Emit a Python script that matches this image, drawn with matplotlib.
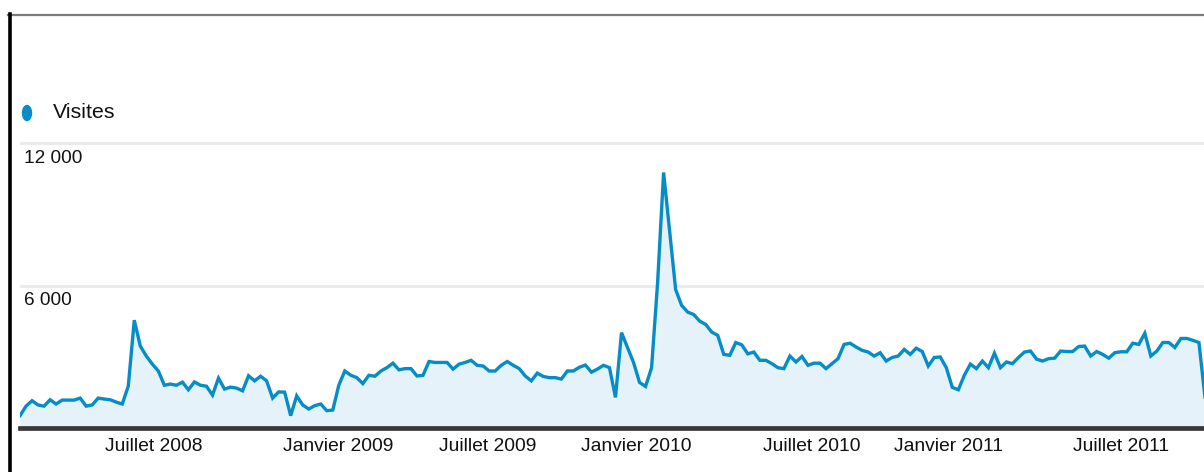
import matplotlib
matplotlib.use("Agg")
import matplotlib.pyplot as plt
from matplotlib.patches import Ellipse
from matplotlib.lines import Line2D
import matplotlib.transforms as mtransforms

plt.rcParams['font.family'] = ['Liberation Sans', 'DejaVu Sans']

# Weekly visits
visits = [
    520, 920, 1150, 970, 920, 1190, 1010, 1175, 1175, 1175, 1260, 920, 970, 1260, 1220, 1190,
    1090, 1010, 1760, 4540, 3450, 3030, 2690, 2400, 1800, 1850, 1800, 1930, 1610, 1940, 1800,
    1760, 1385, 2100, 1640, 1720, 1680, 1565, 2200, 1985, 2180, 1985, 1260, 1520, 1510, 520,
    1355, 970, 800, 940, 1010, 730, 755, 1800, 2400, 2220, 2120, 1870, 2220, 2180, 2400, 2540,
    2730, 2450,
    2500, 2500, 2190, 2220, 2800, 2760, 2760, 2760, 2480, 2690, 2760, 2850, 2640, 2610, 2400,
    2400, 2640, 2800, 2640, 2500, 2190, 1985, 2310, 2170, 2120, 2120, 2060, 2400, 2400, 2560,
    2650, 2350, 2480,
    2640, 2540, 1290, 4015, 3390, 2760, 1920, 1750, 2540, 6110, 10760, 8280, 5830, 5160, 4880,
    4780, 4500, 4360, 4040, 3900, 3100, 3060, 3600, 3500, 3120, 3200, 2850, 2850, 2710, 2540,
    2500, 3030, 2780,
    3010, 2640, 2730, 2730, 2500, 2710, 2920, 3520, 3570, 3410, 3270, 3200, 3030, 3170, 2820,
    2970, 3030, 3310, 3100, 3360, 3220, 2610, 2970, 2990, 2540, 1710, 1610, 2220, 2690, 2500,
    2820, 2540, 3150,
    2540, 2780, 2710, 2970, 3200, 3240, 2900, 2820, 2920, 2940, 3240, 3220, 3220, 3430, 3450,
    3030, 3220, 3100, 2940, 3170, 3210, 3210, 3570, 3520, 3990, 3030, 3240, 3600, 3600, 3390,
    3770, 3770, 3690, 3600, 1300,
]
weeks = list(range(len(visits)))

y_ticks = [6000, 12000]
y_tick_labels = ["6 000", "12 000"]
x_tick_pos = [22.3, 52.9, 77.7, 102.4, 131.7, 154.3, 183.0]
x_tick_labels = ["Juillet 2008", "Janvier 2009", "Juillet 2009", "Janvier 2010",
                 "Juillet 2010", "Janvier 2011", "Juillet 2011"]
series_name = "Visites"

W, H = 1204, 472
fig = plt.figure(figsize=(W / 100, H / 100), dpi=100)
fig.patch.set_facecolor("white")

ax_left, ax_bottom_px, ax_top_px = 20, 428, 130
ax = fig.add_axes([ax_left / W, (H - ax_bottom_px) / H, (W - ax_left) / W,
                   (ax_bottom_px - ax_top_px) / H])
ax.set_facecolor("none")

line_color = "#058dc7"
ax.fill_between(weeks, visits, 0, color="#e6f2f9", zorder=1, lw=0)
ax.plot(weeks, visits, color=line_color, lw=2.4, zorder=3, solid_joinstyle="miter")

ax.set_xlim(0, (W - ax_left) / 6.015)
ax.set_ylim(0, 12000 * (ax_bottom_px - ax_top_px) / (ax_bottom_px - 143))

for v in y_ticks:
    ax.axhline(v, color="#ebebeb", lw=2.2, zorder=0)

blend = mtransforms.blended_transform_factory(ax.transAxes, ax.transData)
for v, lab in zip(y_ticks, y_tick_labels):
    ax.annotate(lab, xy=(0, v), xycoords=blend, xytext=(3, -5), textcoords="offset points",
                ha="left", va="top", fontsize=13.7, color="#111111")

ax.set_yticks([])
ax.set_xticks(x_tick_pos)
ax.set_xticklabels(x_tick_labels, fontsize=13.9, color="#111111")
ax.tick_params(axis="x", length=0, pad=7)

for s in ["left", "right", "top"]:
    ax.spines[s].set_visible(False)
ax.spines["bottom"].set_color("#383838")
ax.spines["bottom"].set_linewidth(3.4)
ax.spines["bottom"].set_zorder(5)

# legend
fig.add_artist(Ellipse((27 / W, 1 - 113 / H), width=9 / W, height=15 / H,
                       transform=fig.transFigure, color=line_color))
fig.text(53 / W, 1 - 112 / H, series_name, fontsize=15.4, va="center", ha="left",
         color="#111111")

# frame of the screenshot
fig.add_artist(Line2D([8 / W, 1], [1 - 15 / H, 1 - 15 / H], transform=fig.transFigure,
                      color="#7a7a7a", lw=1.6))
fig.add_artist(Line2D([10 / W, 10 / W], [0, 1 - 14 / H], transform=fig.transFigure,
                      color="black", lw=2.6))

fig.savefig("out.png", dpi=100)
